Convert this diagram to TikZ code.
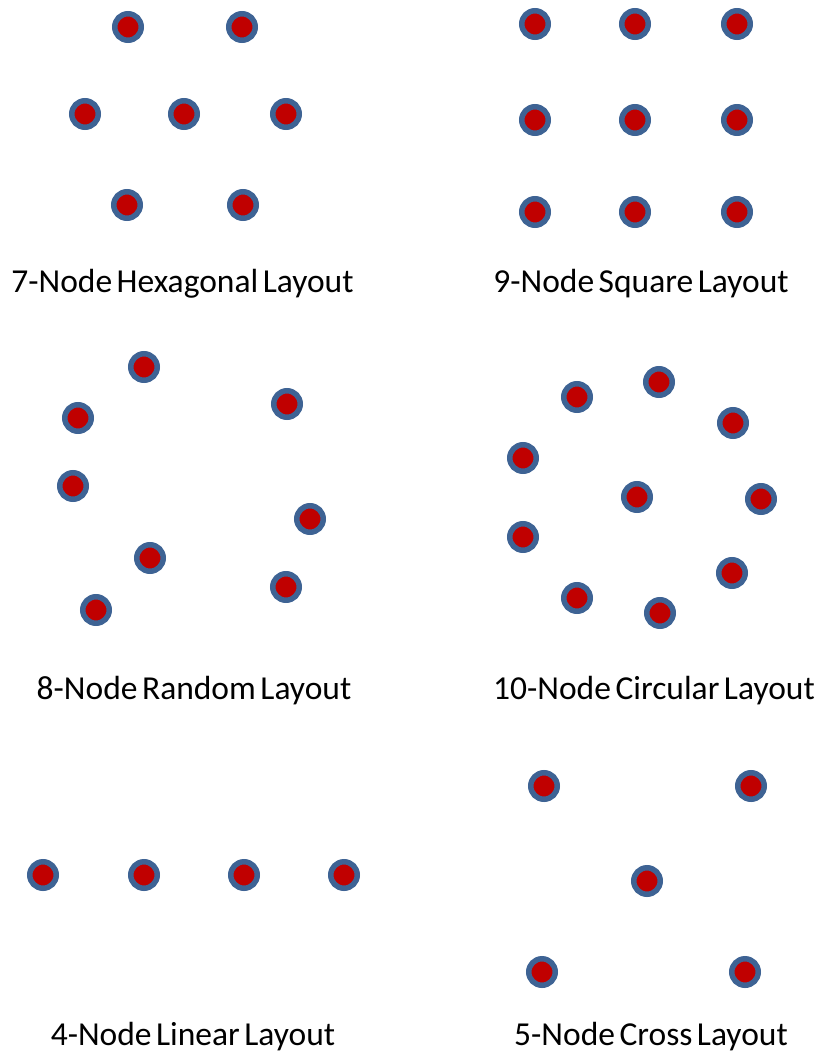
\documentclass[tikz,border=0pt]{standalone}
\usepackage{fontspec}
\setmainfont{Carlito}[WordSpace=0.6]
\definecolor{dotred}{HTML}{C00000}
\definecolor{dotblue}{HTML}{3E6394}
\begin{document}
\begin{tikzpicture}[x=1pt,y=-1pt,
  dot/.style={circle,draw=dotblue,fill=dotred,line width=5.5pt,minimum size=26.5pt,inner sep=0pt},
  caption/.style={font=\fontsize{33.5}{40}\selectfont,inner sep=0pt,text=black,anchor=base}]
\useasboundingbox (0,0) rectangle (822,1058);
% panel 1
\foreach \x/\y [count=\i] in {128/27,242/27,85/114,184/114,286/114,127/205,243/205}
  \node[dot] (a\i) at (\x,\y) {};
\node[caption] (ta) at (182.5,292) {7-Node Hexagonal Layout};
% panel 2
\foreach \x/\y [count=\i] in {535/24,635/24,737/24,535/120,635/120,737/120,535/212,635/212,737/212}
  \node[dot] (b\i) at (\x,\y) {};
\node[caption] (tb) at (641,292) {9-Node Square Layout};
% panel 3
\foreach \x/\y [count=\i] in {78/418,144/367,287/404,73/486,310/519,150/558,286/587,96/610}
  \node[dot] (c\i) at (\x,\y) {};
\node[caption] (tc) at (194,699) {8-Node Random Layout};
% panel 4
\foreach \x/\y [count=\i] in {577/397,659/382,733/423,523/458,637/497,761/499,523/537,732/573,577/598,660/613}
  \node[dot] (d\i) at (\x,\y) {};
\node[caption] (td) at (654,699) {10-Node Circular Layout};
% panel 5
\foreach \x/\y [count=\i] in {43/875,144/875,244/875,344/875}
  \node[dot] (e\i) at (\x,\y) {};
\node[caption] (te) at (193,1045) {4-Node Linear Layout};
% panel 6
\foreach \x/\y [count=\i] in {544/786,751/786,647/881,542/972,745/972}
  \node[dot] (f\i) at (\x,\y) {};
\node[caption] (tf) at (651,1045) {5-Node Cross Layout};
\end{tikzpicture}
\end{document}
